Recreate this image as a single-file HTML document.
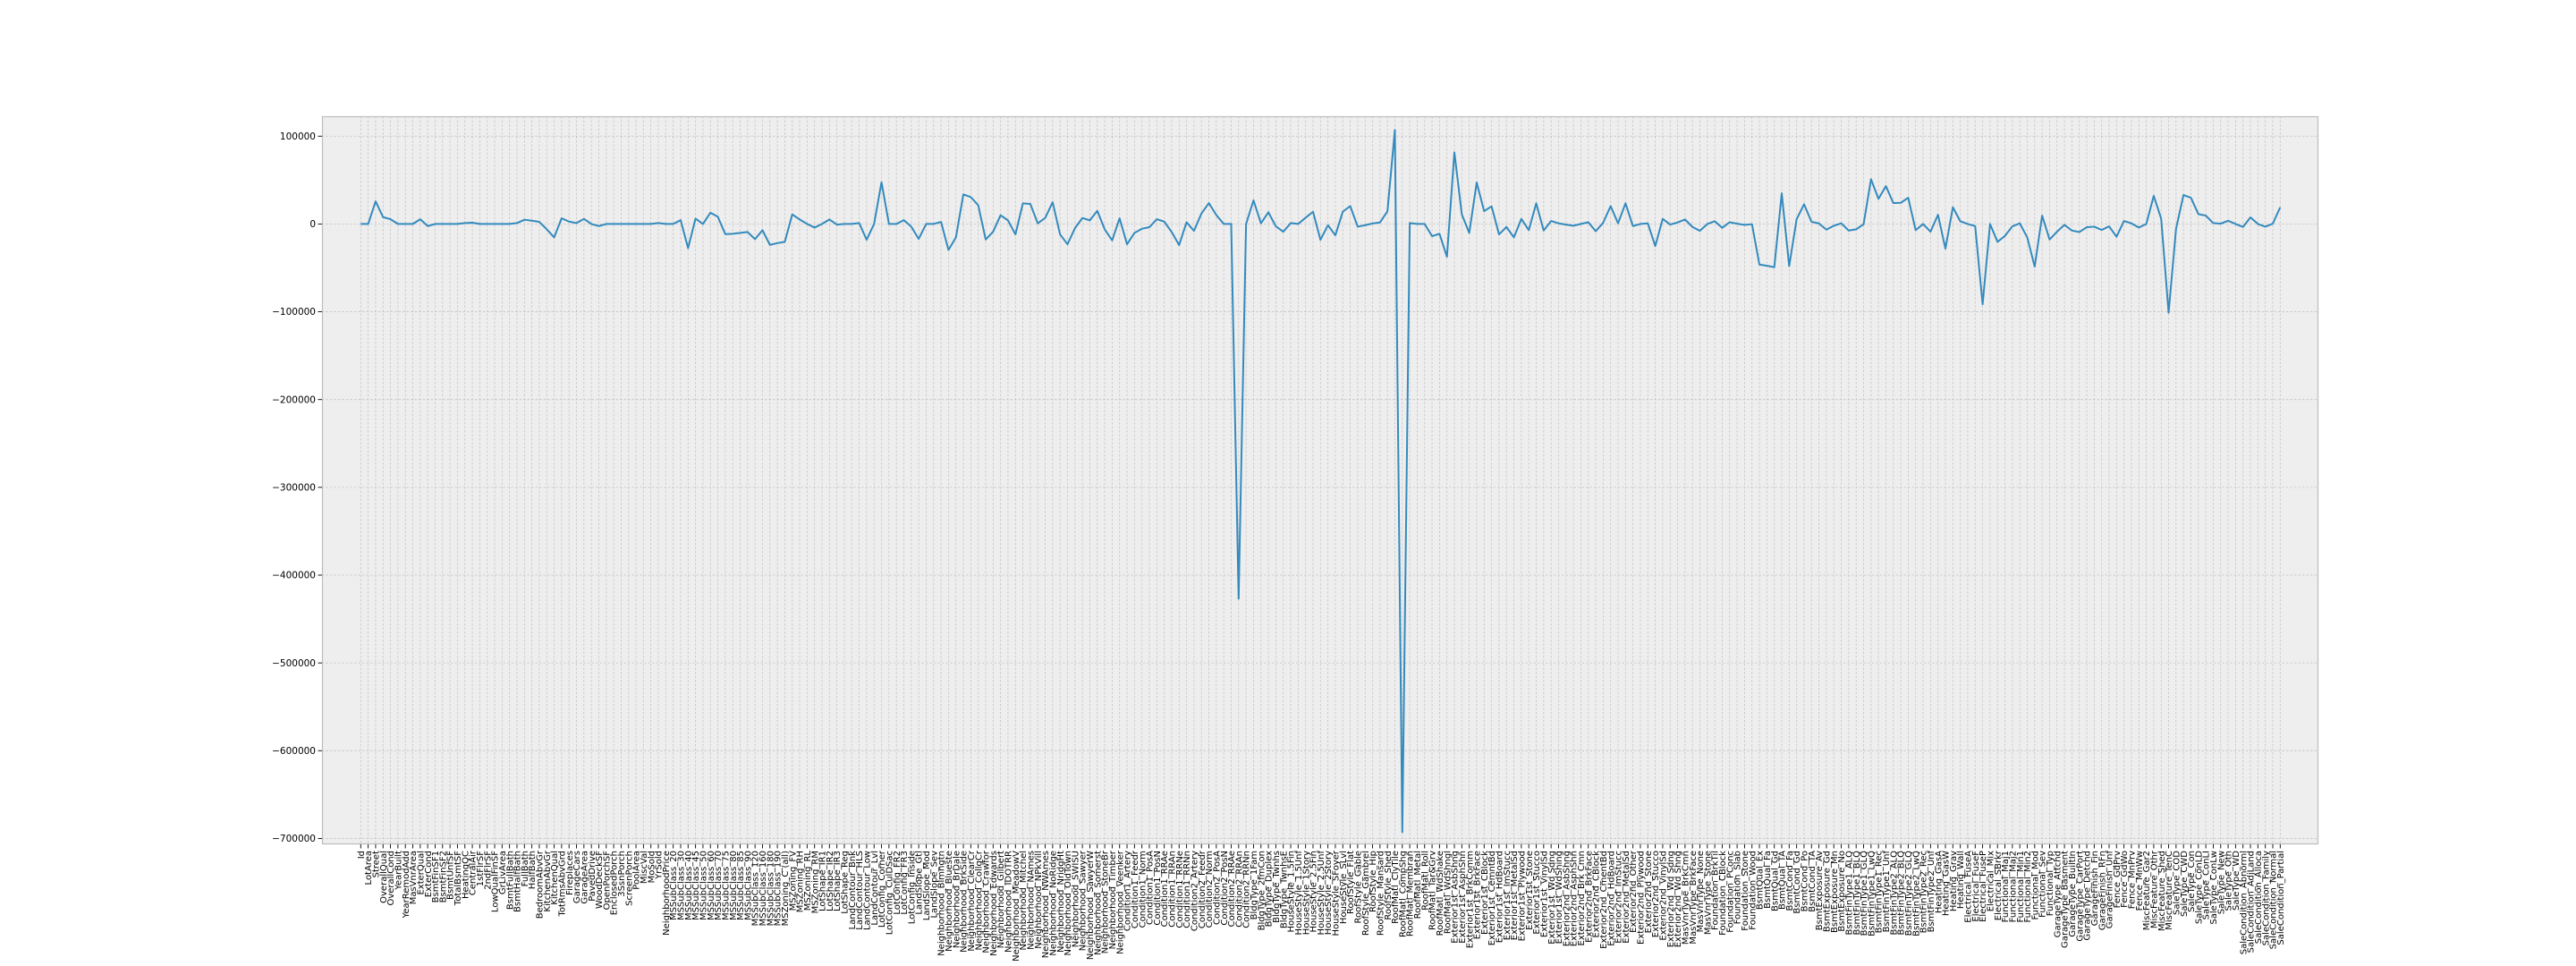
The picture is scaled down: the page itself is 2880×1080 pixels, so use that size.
<!DOCTYPE html>
<html><head><meta charset="utf-8"><title>Feature chart</title>
<style>
html,body{margin:0;padding:0;background:#fff;}
svg{display:block;}
</style></head>
<body>
<svg id="chart" width="2880" height="1080" xmlns="http://www.w3.org/2000/svg" font-family="'DejaVu Sans','Liberation Sans',sans-serif"></svg>
<script>
const values = [
0,0,25800,7800,5400,0,0,0,5400,-2400,
0,0,0,0,1000,1400,0,0,0,0,
0,1000,4800,3700,2400,-6000,-15300,6500,2700,1000,
5800,0,-2400,0,0,0,0,0,0,0,
1000,0,0,4400,-27500,6100,0,12900,8200,-11600,
-11200,-10200,-9200,-17300,-7100,-23800,-21800,-20400,10900,5100,
0,-4100,0,5100,-700,0,0,1000,-18000,0,
47600,0,0,4400,-3100,-17000,0,0,2400,-29600,
-15300,33700,30600,21400,-17700,-8800,9900,4100,-11900,23500,
22800,700,6800,24800,-11900,-23100,-4800,6800,4100,15000,
-6100,-18700,6500,-23100,-10200,-5400,-3700,5400,2700,-9200,
-24100,2000,-7800,11900,23800,10200,0,0,-426800,0,
26900,700,13300,-2700,-8800,1000,0,7100,13900,-18000,
-1400,-12900,13900,20400,-3100,-1400,500,1700,14300,107000,
-692700,1000,0,0,-13900,-11200,-37400,81600,10900,-10200,
47300,14600,20100,-11900,-3400,-15300,5800,-7100,23500,-7500,
3400,700,-700,-2000,0,2000,-8200,1400,20400,700,
23500,-2400,0,700,-25200,5800,-700,1700,5100,-3400,
-7800,0,3100,-4400,2000,300,-1000,-300,-46200,-47600,
-49300,35000,-48000,5400,22400,2400,700,-6500,-2000,700,
-7500,-6100,-300,51000,28600,43200,23800,24100,29900,-7100,
0,-8800,10500,-28200,19000,3100,0,-2400,-91500,0,
-20400,-13600,-2700,700,-15300,-48600,9500,-17700,-8800,-1000,
-7500,-9200,-3700,-3100,-6800,-2700,-14600,3400,700,-4100,
0,32000,6100,-101000,-5400,33000,29900,11200,9500,1000,
300,3700,0,-3400,7500,0,-3100,300,19000
];
const headLabels = ["Id","LotArea","Street","OverallQual","OverallCond","YearBuilt","YearRemodAdd","MasVnrArea","ExterQual","ExterCond","BsmtFinSF1","BsmtFinSF2","BsmtUnfSF","TotalBsmtSF","HeatingQC","CentralAir","1stFlrSF","2ndFlrSF","LowQualFinSF","GrLivArea","BsmtFullBath","BsmtHalfBath","FullBath","HalfBath","BedroomAbvGr","KitchenAbvGr","KitchenQual","TotRmsAbvGrd","Fireplaces","GarageCars","GarageArea","PavedDrive","WoodDeckSF","OpenPorchSF","EnclosedPorch","3SsnPorch","ScreenPorch","PoolArea","MiscVal","MoSold","YrSold","NeighborhoodPrice"];
const middleGroups = [
["MSSubClass",["20","30","40","45","50","60","70","75","80","85","90","120","160","180","190"]],
["MSZoning",["C (all)","FV","RH","RL","RM"]],
["LotShape",["IR1","IR2","IR3","Reg"]],
["LandContour",["Bnk","HLS","Low","Lvl"]],
["LotConfig",["Corner","CulDSac","FR2","FR3","Inside"]],
["LandSlope",["Gtl","Mod","Sev"]],
["Neighborhood",["Blmngtn","Blueste","BrDale","BrkSide","ClearCr","CollgCr","Crawfor","Edwards","Gilbert","IDOTRR","MeadowV","Mitchel","NAmes","NPkVill","NWAmes","NoRidge","NridgHt","OldTown","SWISU","Sawyer","SawyerW","Somerst","StoneBr","Timber","Veenker"]],
["Condition1",["Artery","Feedr","Norm","PosA","PosN","RRAe","RRAn","RRNe","RRNn"]],
["Condition2",["Artery","Feedr","Norm","PosA","PosN","RRAe","RRAn","RRNn"]],
["BldgType",["1Fam","2fmCon","Duplex","Twnhs","TwnhsE"]],
["HouseStyle",["1.5Fin","1.5Unf","1Story","2.5Fin","2.5Unf","2Story","SFoyer","SLvl"]],
["RoofStyle",["Flat","Gable","Gambrel","Hip","Mansard","Shed"]],
["RoofMatl",["ClyTile","CompShg","Membran","Metal","Roll","Tar&Grv","WdShake","WdShngl"]],
["Exterior1st",["AsbShng","AsphShn","BrkComm","BrkFace","CBlock","CemntBd","HdBoard","ImStucc","MetalSd","Plywood","Stone","Stucco","VinylSd","Wd Sdng","WdShing"]],
["Exterior2nd",["AsbShng","AsphShn","Brk Cmn","BrkFace","CBlock","CmentBd","HdBoard","ImStucc","MetalSd","Other","Plywood","Stone","Stucco","VinylSd","Wd Sdng","Wd Shng"]],
["MasVnrType",["BrkCmn","BrkFace","None","Stone"]],
["Foundation",["BrkTil","CBlock","PConc","Slab","Stone","Wood"]],
["BsmtQual",["Ex","Fa","Gd","TA"]],
["BsmtCond",["Fa","Gd","Po","TA"]],
["BsmtExposure",["Av","Gd","Mn","No"]],
["BsmtFinType1",["ALQ","BLQ","GLQ","LwQ","Rec","Unf"]],
["BsmtFinType2",["ALQ","BLQ","GLQ","LwQ","Rec","Unf"]],
["Heating",["GasA","GasW","Grav","Wall"]],
["Electrical",["FuseA","FuseF","FuseP","Mix","SBrkr"]],
["Functional",["Maj1","Maj2","Min1","Min2","Mod","Sev","Typ"]],
["GarageType",["2Types"]]
];
const tailLabels = ["GarageType_Attchd","GarageType_Basment","GarageType_BuiltIn","GarageType_CarPort","GarageType_Detchd","GarageFinish_Fin","GarageFinish_RFn","GarageFinish_Unf","Fence_GdPrv","Fence_GdWo","Fence_MnPrv","Fence_MnWw","MiscFeature_Gar2","MiscFeature_Othr","MiscFeature_Shed","MiscFeature_TenC","SaleType_COD","SaleType_CWD","SaleType_Con","SaleType_ConLD","SaleType_ConLI","SaleType_ConLw","SaleType_New","SaleType_Oth","SaleType_WD","SaleCondition_Abnorml","SaleCondition_AdjLand","SaleCondition_Alloca","SaleCondition_Family","SaleCondition_Normal","SaleCondition_Partial"];
const yTicks = [100000,0,-100000,-200000,-300000,-400000,-500000,-600000,-700000];

let middle = [];
middleGroups.forEach(g => g[1].forEach(v => middle.push(g[0] + "_" + v)));
const needMid = values.length - headLabels.length - tailLabels.length;
middle = middle.slice(0, needMid);
while (middle.length < needMid) middle.push("Feature_" + middle.length);
const categories = headLabels.concat(middle, tailLabels);

// layout
const AX = {l:360, r:2592, t:130, b:944};
const X0 = 403.3, X1 = 2549.3;
const xScale = i => X0 + (X1 - X0) * i / (values.length - 1);
const yScale = v => 250.4 - v * (98.15 / 100000);

const NS = "http://www.w3.org/2000/svg";
const svg = document.getElementById("chart");
function mk(tag, attrs, parent) {
  const e = document.createElementNS(NS, tag);
  for (const k in attrs) e.setAttribute(k, attrs[k]);
  (parent || svg).appendChild(e);
  return e;
}

const bg = mk("rect", {x:AX.l, y:AX.t, width:AX.r-AX.l, height:AX.b-AX.t, fill:"#eeeeee"});



const grid = mk("g", {stroke:"#c4c4c4", "stroke-width":"0.8", "stroke-dasharray":"2.5,2"});


yTicks.forEach(t => {
  const y = yScale(t);
  const gl = mk("line", {x1:AX.l, x2:AX.r, y1:y, y2:y}, grid);
  
  
});
categories.forEach((c, i) => {
  const x = xScale(i);
  const gl = mk("line", {x1:x, x2:x, y1:AX.t, y2:AX.b}, grid);
  
  
});

const frame = mk("rect", {x:AX.l+0.5, y:AX.t+0.5, width:AX.r-AX.l-1, height:AX.b-AX.t-1, fill:"none", stroke:"#bcbcbc", "stroke-width":"1.2"});



// y axis
const yAxis = mk("g", {});


yTicks.forEach(t => {
  const y = yScale(t);
  const tk = mk("line", {x1:AX.l-4.5, x2:AX.l, y1:y, y2:y, stroke:"#000", "stroke-width":"0.9"}, yAxis);
  
  
  const tx = mk("text", {x:AX.l-7, y:y+3.6, "text-anchor":"end", "font-size":"10.5", fill:"#000"}, yAxis);
  tx.textContent = t < 0 ? "\u2212" + Math.abs(t) : String(t);
  
  
});

// x axis
const xAxis = mk("g", {});


categories.forEach((c, i) => {
  const x = xScale(i);
  const tk = mk("line", {x1:x, x2:x, y1:AX.b, y2:AX.b+4.5, stroke:"#000", "stroke-width":"0.9"}, xAxis);
  
  
  const tx = mk("text", {x:0, y:0, "text-anchor":"end", "font-size":"10", fill:"#000",
    transform:"translate(" + (x + 3.6) + "," + (AX.b + 7) + ") rotate(-90)"}, xAxis);
  tx.textContent = c;
  
  
});

// series
const pts = values.map((v, i) => xScale(i).toFixed(2) + "," + yScale(v).toFixed(2)).join(" ");
const line = mk("polyline", {points:pts, fill:"none", stroke:"#348ABD", "stroke-width":"2", "stroke-linejoin":"round"});


</script>
</body></html>
